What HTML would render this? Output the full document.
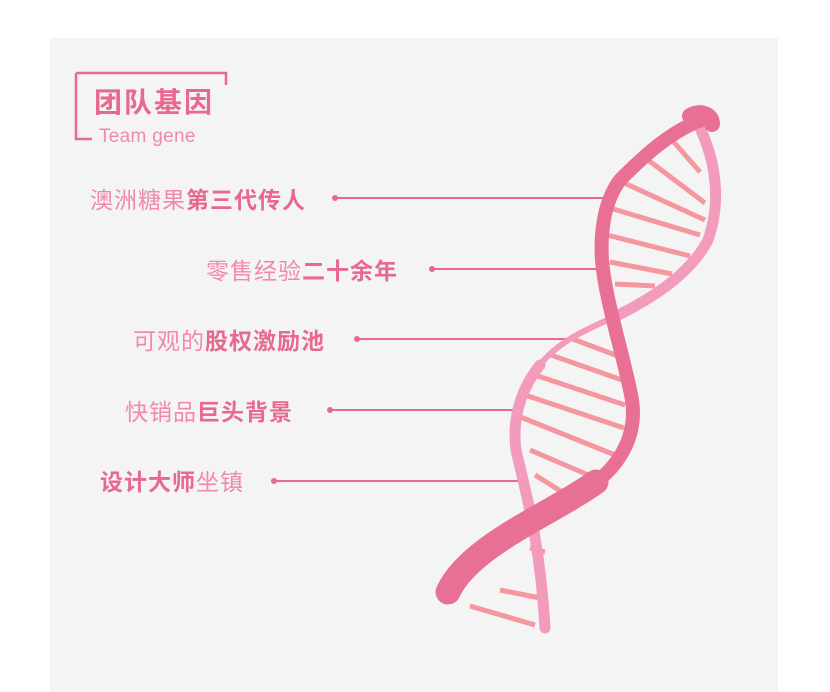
<!DOCTYPE html>
<html><head><meta charset="utf-8"><style>
body{margin:0;width:830px;height:692px;background:#fff;position:relative;overflow:hidden;font-family:"Liberation Sans","Noto Sans CJK SC",sans-serif}
.panel{position:absolute;left:50px;top:38px;width:728px;height:654px;background:#f4f4f4}
.t{position:absolute;font-size:23px;letter-spacing:1px;line-height:24px;white-space:nowrap;color:#f08aa8}
.t b{color:#e8698f}
</style></head><body>
<div class="panel"></div>
<svg width="830" height="692" style="position:absolute;left:0;top:0">
<g fill="none" stroke="#e8698f" stroke-width="2.5">
<path d="M76 73H226V85"/><path d="M76 73V139H92"/>
</g>
<g stroke="#e8698f" stroke-width="2">
<line x1="335" y1="198" x2="606" y2="198"/>
<line x1="432" y1="269" x2="600" y2="269"/>
<line x1="357" y1="339" x2="578" y2="339"/>
<line x1="330" y1="410" x2="515" y2="410"/>
<line x1="274" y1="481" x2="520" y2="481"/>
</g>
<g fill="#e8698f"><circle cx="335" cy="198" r="3"/><circle cx="432" cy="269" r="3"/><circle cx="357" cy="339" r="3"/><circle cx="330" cy="410" r="3"/><circle cx="274" cy="481" r="3"/></g>
<g stroke="#f4979f" stroke-width="5">
<line x1="672" y1="140" x2="700" y2="172"/>
<line x1="648" y1="160" x2="705" y2="203"/>
<line x1="622" y1="182" x2="705" y2="220"/>
<line x1="610" y1="208" x2="700" y2="235"/>
<line x1="607" y1="235" x2="690" y2="256"/>
<line x1="610" y1="262" x2="672" y2="274"/>
<line x1="615" y1="284" x2="655" y2="286"/>
<line x1="570" y1="338" x2="618" y2="356"/>
<line x1="548" y1="354" x2="622" y2="380"/>
<line x1="532" y1="374" x2="625" y2="405"/>
<line x1="522" y1="394" x2="624" y2="428"/>
<line x1="518" y1="416" x2="615" y2="455"/>
<line x1="530" y1="450" x2="600" y2="480"/>
<line x1="535" y1="475" x2="575" y2="500"/>
<line x1="530" y1="548" x2="545" y2="552"/>
<line x1="500" y1="590" x2="540" y2="598"/>
<line x1="470" y1="606" x2="535" y2="625"/>
</g>
<g fill="none" stroke="#f39bbd" stroke-linecap="round">
<path d="M700 128C715 160 722 200 708 240C690 275 650 300 612 318" stroke-width="11"/>
<path d="M612 318C580 332 555 345 540 365" stroke-width="6"/>
<path d="M540 365C520 390 512 420 516 450C525 490 540 540 545 628" stroke-width="11"/>
</g>
<g fill="none" stroke="#e97095" stroke-linecap="round">
<path d="M707 118C670 130 640 160 620 180C605 200 600 230 602 260C605 300 625 360 632 400C638 440 615 470 590 486" stroke-width="14"/>
<path d="M596 482C550 515 470 545 448 592" stroke-width="25"/>
<path d="M690 116C700 110 712 114 712 124" stroke-width="16"/>
</g>
</svg>
<div class="t" style="left:94px;top:87px;font-size:28px;letter-spacing:2px;line-height:32px;font-weight:bold;color:#e8698f">团队基因</div>
<div class="t" style="left:99px;top:126px;font-size:19px;letter-spacing:0.3px;line-height:22px;color:#f08aa8">Team gene</div>
<div class="t" style="left:90px;top:188px">澳洲糖果<b>第三代传人</b></div>
<div class="t" style="left:206px;top:259px">零售经验<b>二十余年</b></div>
<div class="t" style="left:133px;top:329px">可观的<b>股权激励池</b></div>
<div class="t" style="left:125px;top:400px">快销品<b>巨头背景</b></div>
<div class="t" style="left:100px;top:470px"><b>设计大师</b>坐镇</div>
</body></html>
